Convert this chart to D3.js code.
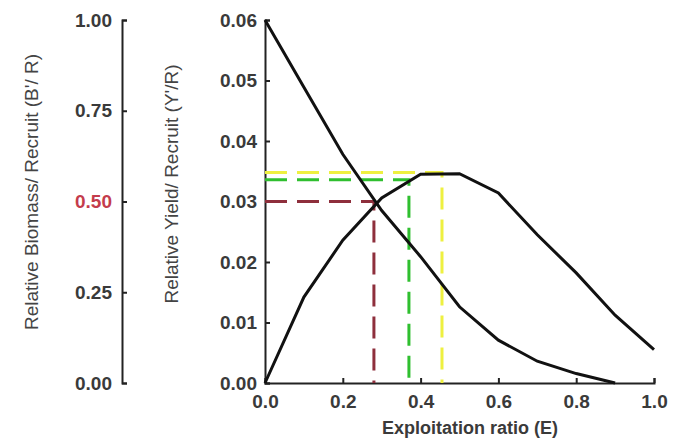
<!doctype html>
<html>
<head>
<meta charset="utf-8"/>
<title>Relative yield and biomass per recruit</title>
<script src="https://d3js.org/d3.v7.min.js"></script>
<style>
body { margin: 0; background: #fff; }
svg text { font-family: "Liberation Sans", Arial, sans-serif; }
</style>
</head>
<body>
<script type="text/javascript">
// exploitation ratio E
var expl = [0, 0.1, 0.2, 0.3, 0.4, 0.5, 0.6, 0.7, 0.8, 0.9];
// relative biomass per recruit (left axis)
var biomass = [1.0, 0.815, 0.63, 0.475, 0.348, 0.21, 0.118, 0.06, 0.026, 0.0];

var explY = [0, 0.1, 0.2, 0.3, 0.4, 0.5, 0.6, 0.7, 0.8, 0.9, 1.0];
// relative yield per recruit (right axis)
var yieldR = [0, 0.0142, 0.0236, 0.0306, 0.0345, 0.0346, 0.0314, 0.0245, 0.0182, 0.0112, 0.0055];

// reference points: E50, E0.1, Emax
var refE = [0.28, 0.37, 0.455];
var refY = [0.030, 0.0336, 0.0348];
var refColor = ["#8e2f3c", "#2fbf2f", "#eef040"];

var leftTicks = [0, 0.25, 0.5, 0.75, 1];
var rightTicks = [0, 0.01, 0.02, 0.03, 0.04, 0.05, 0.06];
var xTicks = [0, 0.2, 0.4, 0.6, 0.8, 1.0];

var svg = d3.select("body").append("svg")
    .attr("width", 687)
    .attr("height", 447);

var x = d3.scaleLinear().domain([0, 1]).range([265, 654]);
var yB = d3.scaleLinear().domain([0, 1]).range([383, 20]);
var yY = d3.scaleLinear().domain([0, 0.06]).range([383, 20]);

// left biomass axis
var gL = svg.append("g").attr("transform", "translate(122,0)")
    .call(d3.axisLeft(yB).tickValues(leftTicks).tickFormat(d3.format(".2f"))
        .tickSizeInner(-5).tickSizeOuter(-5).tickPadding(10));

// yield axis
var gR = svg.append("g").attr("transform", "translate(265,0)")
    .call(d3.axisLeft(yY).tickValues(rightTicks).tickFormat(d3.format(".2f"))
        .tickSizeInner(-5).tickSizeOuter(-5).tickPadding(8));

// x axis
var gX = svg.append("g").attr("transform", "translate(0,383)")
    .call(d3.axisBottom(x).tickValues(xTicks).tickFormat(d3.format(".1f"))
        .tickSizeInner(-5).tickSizeOuter(-5).tickPadding(12));

[gL, gR, gX].forEach(function(g) {
  g.select(".domain").attr("stroke", "#222").attr("stroke-width", 2);
  g.selectAll(".tick line").attr("stroke", "#222").attr("stroke-width", 2);
  g.selectAll(".tick text")
    .attr("fill", "#3a3a3a")
    .style("font-size", "19px")
    .style("font-weight", "bold");
});

gL.selectAll(".tick text").filter(function(d) { return d === 0.5; })
    .attr("fill", "#c43c4c");

// dashed reference lines
refE.forEach(function(e, i) {
  svg.append("path")
    .attr("d", d3.line()([[x(0), yY(refY[i])], [x(e), yY(refY[i])], [x(e), yY(0)]]))
    .attr("fill", "none")
    .attr("stroke", refColor[i])
    .attr("stroke-width", 3)
    .attr("stroke-dasharray", "22,10");
});

// curves
svg.append("path")
    .datum(expl)
    .attr("d", d3.line()
        .x(function(d) { return x(d); })
        .y(function(d, i) { return yB(biomass[i]); }))
    .attr("fill", "none")
    .attr("stroke", "#111")
    .attr("stroke-width", 3);

svg.append("path")
    .datum(explY)
    .attr("d", d3.line()
        .x(function(d) { return x(d); })
        .y(function(d, i) { return yY(yieldR[i]); }))
    .attr("fill", "none")
    .attr("stroke", "#111")
    .attr("stroke-width", 3);

// axis titles
svg.append("text")
    .attr("transform", "translate(38,192) rotate(-90)")
    .attr("text-anchor", "middle")
    .attr("fill", "#444")
    .style("font-size", "19px")
    .text("Relative Biomass/ Recruit (B'/ R)");

svg.append("text")
    .attr("transform", "translate(178,184) rotate(-90)")
    .attr("text-anchor", "middle")
    .attr("fill", "#444")
    .style("font-size", "19px")
    .text("Relative Yield/ Recruit (Y'/R)");

svg.append("text")
    .attr("x", 470)
    .attr("y", 434)
    .attr("text-anchor", "middle")
    .attr("fill", "#3a3a3a")
    .style("font-size", "18px")
    .style("font-weight", "bold")
    .text("Exploitation ratio (E)");
</script>
</body>
</html>
